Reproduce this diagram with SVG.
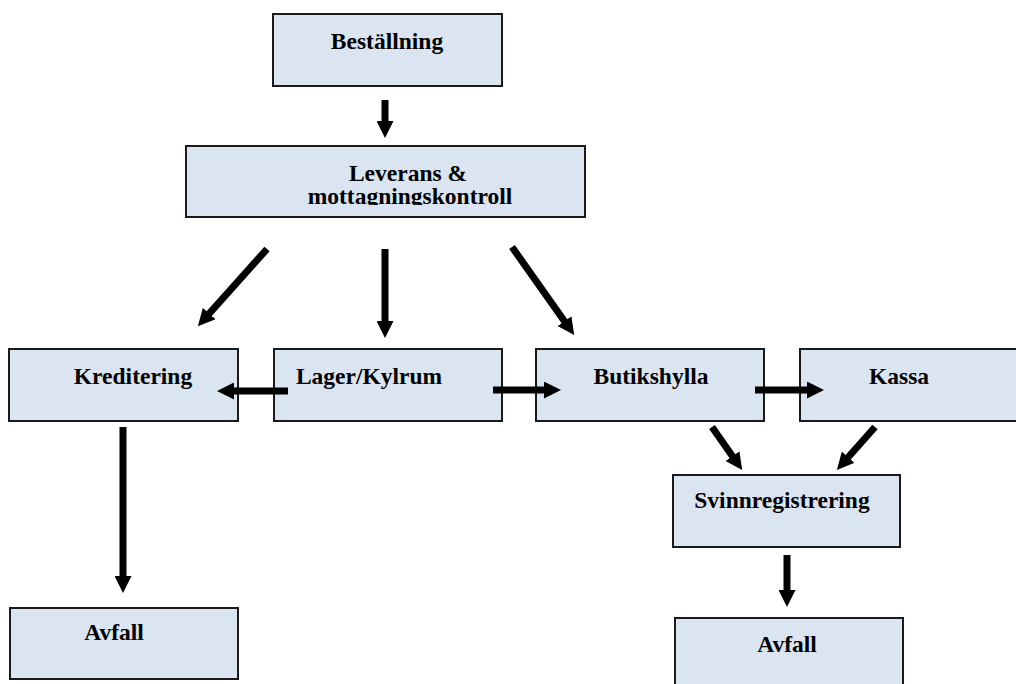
<svg xmlns="http://www.w3.org/2000/svg" width="1016" height="684" viewBox="0 0 1016 684">
  <defs>
    <style>
      .box { fill: #dbe5f1; stroke: #1a1a1a; stroke-width: 2; }
      .lbl { font-family: "Liberation Serif", "Times New Roman", serif; font-weight: bold; font-size: 23.5px; fill: #000; text-anchor: middle; }
      .arr { stroke: #000; stroke-width: 7; fill: none; marker-end: url(#head); }
    </style>
    <marker id="head" markerUnits="userSpaceOnUse" markerWidth="17" markerHeight="17" viewBox="0 0 17 17" refX="1" refY="8.5" orient="auto">
      <path d="M0,0 L17,8.5 L0,17 z" fill="#000"/>
    </marker>
    <clipPath id="levClip">
      <rect x="186" y="146" width="399" height="59"/>
    </clipPath>
  </defs>
  <rect width="1016" height="684" fill="#ffffff"/>

  <g id="bestallning">
    <rect class="box" x="273" y="14" width="229" height="72"/>
    <text class="lbl" x="387" y="49">Beställning</text>
  </g>
  <g id="leverans">
    <rect class="box" x="186" y="146" width="399" height="71"/>
    <g clip-path="url(#levClip)">
      <text class="lbl" x="408" y="181">Leverans &amp;</text>
      <text class="lbl" x="410" y="204">mottagningskontroll</text>
    </g>
  </g>
  <g id="kreditering">
    <rect class="box" x="9" y="349" width="229" height="72"/>
    <text class="lbl" x="133" y="384">Kreditering</text>
  </g>
  <g id="lager">
    <rect class="box" x="274" y="349" width="228" height="72"/>
    <text class="lbl" x="369" y="384">Lager/Kylrum</text>
  </g>
  <g id="butikshylla">
    <rect class="box" x="536" y="349" width="228" height="72"/>
    <text class="lbl" x="651" y="384">Butikshylla</text>
  </g>
  <g id="kassa">
    <rect class="box" x="800" y="349" width="230" height="72"/>
    <text class="lbl" x="899" y="384">Kassa</text>
  </g>
  <g id="svinnregistrering">
    <rect class="box" x="673" y="475" width="227" height="72"/>
    <text class="lbl" x="782" y="508">Svinnregistrering</text>
  </g>
  <g id="avfall1">
    <rect class="box" x="10" y="608" width="228" height="71"/>
    <text class="lbl" x="114" y="640">Avfall</text>
  </g>
  <g id="avfall2">
    <rect class="box" x="675" y="618" width="228" height="72"/>
    <text class="lbl" x="787" y="652">Avfall</text>
  </g>

  <g id="connectors">
    <line class="arr" x1="385" y1="100" x2="385" y2="122"/>
    <line class="arr" x1="267" y1="249" x2="208.5" y2="314.3"/>
    <line class="arr" x1="385" y1="249" x2="385" y2="322"/>
    <line class="arr" x1="512" y1="247" x2="565" y2="322"/>
    <line class="arr" x1="288" y1="391" x2="233" y2="391"/>
    <line class="arr" x1="493" y1="390" x2="545" y2="390"/>
    <line class="arr" x1="755" y1="390" x2="808" y2="390"/>
    <line class="arr" x1="712" y1="427" x2="733" y2="457"/>
    <line class="arr" x1="875" y1="427" x2="847.5" y2="458"/>
    <line class="arr" x1="123" y1="427" x2="123" y2="577"/>
    <line class="arr" x1="787" y1="555" x2="787" y2="591"/>
  </g>
</svg>
